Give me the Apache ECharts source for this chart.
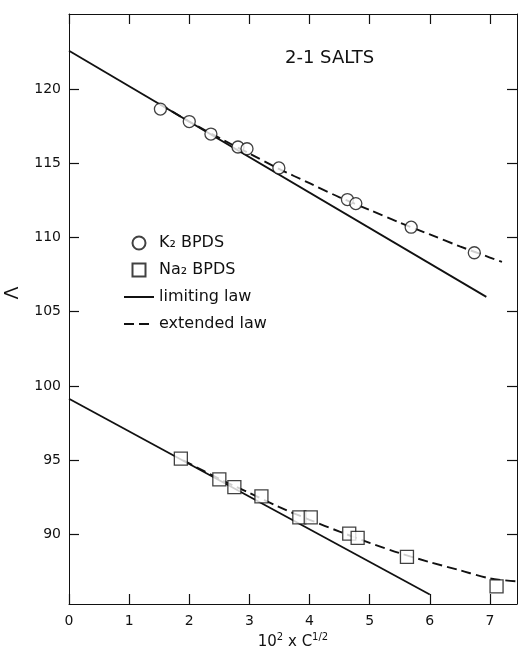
<!DOCTYPE html>
<html>
<head>
<meta charset="utf-8">
<script src="https://cdn.jsdelivr.net/npm/echarts@6/dist/echarts.min.js"></script>
<style>
  html, body { margin: 0; padding: 0; background: #fff; }
  #chart { width: 518px; height: 655px; }
</style>
</head>
<body>
<div id="chart"></div>
<script>
// tick positions
const xTicks = [0, 1, 2, 3, 4, 5, 6, 7];
const yTicks = [90, 95, 100, 105, 110, 115, 120];

// K2BPDS (circles)
const k2X = [1.52, 2.0, 2.36, 2.81, 2.96, 3.49, 4.63, 4.77, 5.69, 6.74];
const k2Y = [118.64, 117.8, 116.96, 116.09, 115.97, 114.68, 112.55, 112.28, 110.69, 108.97];

// Na2BPDS (squares)
const naX = [1.86, 2.5, 2.75, 3.2, 3.83, 4.02, 4.66, 4.8, 5.62, 7.11];
const naY = [95.11, 93.72, 93.2, 92.58, 91.16, 91.16, 90.07, 89.78, 88.5, 86.52];

// limiting law (straight lines)
const limUpX = [0, 6.94];
const limUpY = [122.57, 106.0];
const limLowX = [0, 6.0];
const limLowY = [99.15, 85.97];

// extended law (dashed curves)
const extUpX = [1.5, 2.0, 2.5, 3.0, 3.5, 4.0, 4.5, 5.0, 5.5, 6.0, 6.5, 7.0, 7.2];
const extUpY = [119.0, 117.8, 116.7, 115.65, 114.6, 113.65, 112.7, 111.85, 111.0, 110.2, 109.4, 108.65, 108.35];
const extLowX = [1.9, 2.5, 3.0, 3.5, 4.0, 4.5, 5.0, 5.5, 6.0, 6.5, 7.0, 7.45];
const extLowY = [95.0, 93.75, 92.8, 91.85, 91.0, 90.2, 89.45, 88.75, 88.15, 87.6, 87.05, 86.85];

const zip = (xs, ys) => xs.map((x, i) => [x, ys[i]]);

const ink = '#111';
const font = 'DejaVu Sans';

let myChart = echarts.init(document.getElementById('chart'));

let axisCommon = {
  type: 'value',
  axisLine: { show: true, onZero: false, lineStyle: { color: ink, width: 1 } },
  axisTick: { show: true, inside: true, length: 10, lineStyle: { color: ink, width: 1.2 } },
  splitLine: { show: false }
};

let option = {
  backgroundColor: '#fff',
  animation: false,
  title: {
    text: '2-1 SALTS',
    left: 280,
    top: 44,
    textStyle: { fontFamily: font, fontSize: 18, fontWeight: 'normal', color: ink }
  },
  legend: {
    orient: 'vertical',
    left: 118,
    top: 230,
    itemWidth: 30,
    itemHeight: 13,
    itemGap: 11,
    textStyle: { fontFamily: font, fontSize: 16, color: ink },
    data: [
      { name: 'K₂ BPDS' },
      { name: 'Na₂ BPDS', icon: 'path://M0,0H10V10H0Z' },
      { name: 'limiting law' },
      { name: 'extended law' }
    ]
  },
  grid: { left: 69, right: 1, top: 14, bottom: 51, outerBoundsMode: 'none' },
  xAxis: [
    Object.assign({}, axisCommon, {
      position: 'bottom',
      min: 0,
      max: 7.45,
      axisTick: Object.assign({}, axisCommon.axisTick, { customValues: xTicks }),
      axisLabel: { customValues: xTicks, margin: 10, fontFamily: font, fontSize: 14, color: ink },
      name: '10{sup|2} x C{sup|1/2}',
      nameLocation: 'middle',
      nameGap: 27,
      nameTextStyle: {
        fontFamily: font, fontSize: 15, color: ink,
        rich: { sup: { fontFamily: font, fontSize: 10, color: ink, verticalAlign: 'top', padding: [0, 0, 8, 0] } }
      }
    }),
    Object.assign({}, axisCommon, {
      position: 'top',
      min: 0,
      max: 7.45,
      axisTick: Object.assign({}, axisCommon.axisTick, { customValues: xTicks }),
      axisLabel: { show: false }
    })
  ],
  yAxis: [
    Object.assign({}, axisCommon, {
      position: 'left',
      min: 85.33,
      max: 125.04,
      axisTick: Object.assign({}, axisCommon.axisTick, { customValues: yTicks }),
      axisLabel: { customValues: yTicks, margin: 8, fontFamily: font, fontSize: 14, color: ink },
      name: 'Λ',
      nameLocation: 'middle',
      nameRotate: 90,
      nameGap: 46,
      nameTextStyle: { fontFamily: font, fontSize: 19, color: ink, padding: [0, 0, 0, 32] }
    }),
    Object.assign({}, axisCommon, {
      position: 'right',
      min: 85.33,
      max: 125.04,
      axisTick: Object.assign({}, axisCommon.axisTick, { customValues: yTicks }),
      axisLabel: { show: false }
    })
  ],
  series: [
    {
      name: 'limiting law',
      type: 'line',
      data: zip(limUpX, limUpY),
      symbol: 'none',
      lineStyle: { color: ink, width: 1.8, type: 'solid' },
      itemStyle: { color: ink, opacity: 0 },
      z: 2
    },
    {
      name: 'limiting law',
      type: 'line',
      data: zip(limLowX, limLowY),
      symbol: 'none',
      lineStyle: { color: ink, width: 1.8, type: 'solid' },
      itemStyle: { color: ink, opacity: 0 },
      z: 2
    },
    {
      name: 'extended law',
      type: 'line',
      data: zip(extUpX, extUpY),
      smooth: 0.3,
      symbol: 'none',
      lineStyle: { color: ink, width: 1.9, type: [10, 5] },
      itemStyle: { color: ink, opacity: 0 },
      z: 2
    },
    {
      name: 'extended law',
      type: 'line',
      data: zip(extLowX, extLowY),
      smooth: 0.3,
      symbol: 'none',
      lineStyle: { color: ink, width: 1.9, type: [10, 5] },
      itemStyle: { color: ink, opacity: 0 },
      z: 2
    },
    {
      name: 'K₂ BPDS',
      type: 'scatter',
      data: zip(k2X, k2Y),
      symbol: 'circle',
      symbolSize: 12,
      itemStyle: { color: '#fff', borderColor: ink, borderWidth: 1.3 },
      z: 5
    },
    {
      name: 'Na₂ BPDS',
      type: 'scatter',
      data: zip(naX, naY),
      symbol: 'rect',
      symbolSize: 13,
      itemStyle: { color: '#fff', borderColor: ink, borderWidth: 1.3 },
      z: 5
    }
  ]
};

myChart.setOption(option);
</script>
</body>
</html>
